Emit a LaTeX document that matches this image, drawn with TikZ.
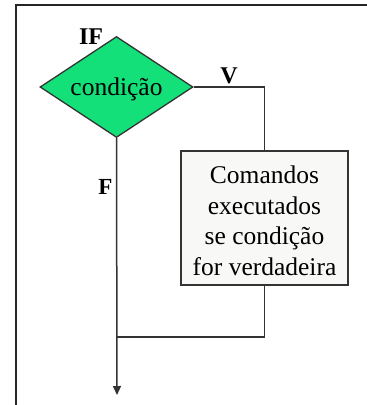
\documentclass[tikz,border=0pt]{standalone}
\usepackage{fontspec}
\setmainfont{Liberation Serif}
\usetikzlibrary{shapes.geometric,arrows.meta}
\definecolor{condgreen}{RGB}{20,224,122}
\definecolor{boxgray}{RGB}{248,248,246}
\begin{document}
\begin{tikzpicture}[x=1pt,y=-1pt,
  frameline/.style={draw=black!85, line width=1.7pt},
  conn/.style={draw=black!80, line width=1.5pt},
  dec/.style={diamond, aspect=1.5, draw=black!80, line width=1.3pt, fill=condgreen,
    minimum width=153pt, minimum height=101pt, inner sep=0pt,
    text height=23pt, text depth=5.5pt,
    font=\fontsize{25.5}{30}\selectfont},
  cmdbox/.style={rectangle, draw=black!80, line width=1.3pt, fill=boxgray,
    minimum width=167pt, minimum height=134pt, inner sep=0pt, align=center,
    font=\fontsize{25.5}{30.5}\selectfont},
  lab/.style={font=\bfseries\fontsize{24}{26}\selectfont, inner sep=0pt}]
\useasboundingbox (0,0) rectangle (367,405);
\draw[frameline] (16,406) -- (16,5) -- (368,5);
\node[dec] (cond) at (116.5,87) {condição};
\node[cmdbox] (cmd) at (264.5,218) {\rule{0pt}{23.5pt}Comandos\\executados\\se condição\\for verdadeira};
\coordinate (merge) at (117,337);
\coordinate (out) at (117,395);
\draw[conn] (cond.east) -| (cmd.north);
\draw[conn] (cmd.south) |- (merge);
\draw[conn,-{Triangle[width=8pt,length=9pt]}] (cond.south) -- (out);
\node[lab] (iflab) at (91,37) {IF};
\node[lab] (vlab) at (229,75.5) {V};
\node[lab,font=\bfseries\fontsize{23}{25}\selectfont] (flab) at (105.5,186.5) {F};
\end{tikzpicture}
\end{document}
